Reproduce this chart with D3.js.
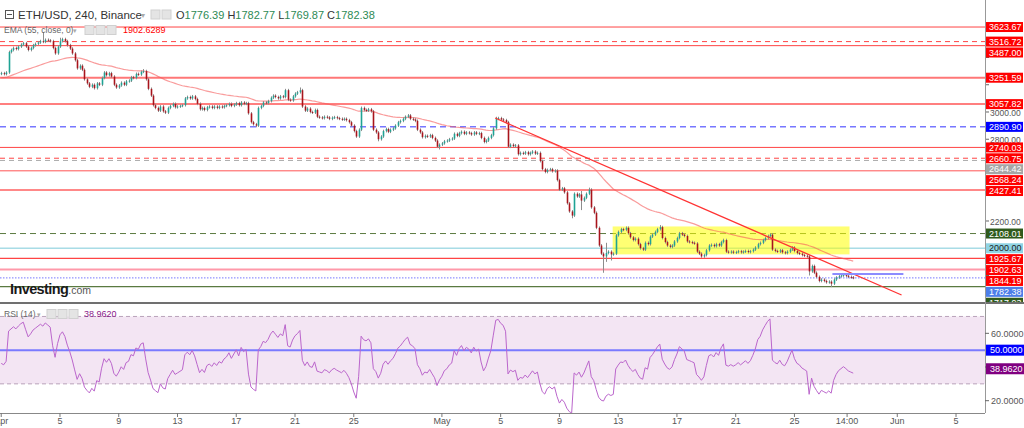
<!DOCTYPE html>
<html>
<head>
<meta charset="utf-8">
<script src="https://cdn.jsdelivr.net/npm/d3@7"></script>
<style>
  html, body { margin: 0; padding: 0; background: #fff; }
  svg { display: block; font-family: "Liberation Sans", Arial, sans-serif; }
</style>
</head>
<body>
<svg id="chart" width="1024" height="428"></svg>
<script>
// ETH/USD 4h closes, Apr 1 2022 00:00 onwards
const closes = [
  3285, 3278, 3290, 3440, 3455, 3470, 3462, 3480, 3495, 3505,
  3480, 3455, 3470, 3490, 3500, 3510, 3520, 3515, 3530, 3525,
  3520, 3470, 3430, 3480, 3520, 3535, 3520, 3490, 3465, 3430,
  3380, 3320, 3340, 3310, 3240, 3210, 3185, 3200, 3175, 3210,
  3200, 3250, 3290, 3270, 3285, 3260, 3200, 3180, 3195, 3215,
  3200, 3225, 3230, 3255, 3250, 3280, 3275, 3295, 3300, 3240,
  3170, 3120, 3050, 3030, 3010, 3040, 3005, 2995, 3030, 3045,
  3060, 3035, 3040, 3045, 3050, 3100, 3110, 3100, 3115, 3095,
  3060, 3020, 3030, 3015, 3035, 3040, 3030, 3040, 3030, 3040,
  3035, 3045, 3050, 3060, 3045, 3055, 3065, 3050, 3070, 3060,
  3065, 2990, 2925, 2910, 2900, 3030, 3045, 3070, 3065, 3080,
  3105, 3120, 3110, 3100, 3115, 3110, 3160, 3090, 3085, 3115,
  3135, 3145, 3160, 3040, 3010, 3025, 3000, 2995, 3015, 2965,
  2960, 2955, 2965, 2960, 2950, 2958, 2962, 2955, 2950, 2945,
  2950, 2940, 2925, 2900, 2860, 2820, 2870, 3030, 3015, 3010,
  3020, 3005, 2870, 2850, 2800, 2820, 2860, 2875, 2855, 2870,
  2880, 2900, 2925, 2935, 2950, 2965, 2975, 2950, 2945, 2935,
  2870, 2850, 2815, 2825, 2820, 2830, 2810, 2790, 2745, 2760,
  2770, 2785, 2790, 2800, 2805, 2840, 2825, 2845, 2855, 2840,
  2850, 2845, 2835, 2850, 2840, 2845, 2810, 2780, 2790, 2810,
  2830, 2880, 2950, 2955, 2945, 2940, 2925, 2745, 2760, 2750,
  2755, 2690, 2700, 2695, 2705, 2690, 2700, 2710, 2695, 2700,
  2640, 2580, 2560, 2575, 2580, 2565, 2570, 2500, 2430, 2440,
  2410, 2330, 2270, 2240, 2400, 2380, 2395, 2350, 2370, 2400,
  2430, 2300, 2260, 2150, 2020, 1960, 1940, 1965, 1975, 1955,
  1960, 2095, 2120, 2140, 2135, 2150, 2110, 2080, 2060, 2070,
  2030, 2000, 1990, 2040, 2030, 2085, 2100, 2120, 2140, 2155,
  2075, 2045, 2020, 2010, 2020, 2050, 2075, 2110, 2100, 2090,
  2050, 2045, 2040, 2035, 1975, 1960, 1940, 1950, 1985, 2020,
  2025, 2015, 2030, 2020, 2045, 2060, 1975, 1970, 1975, 1968,
  1972, 1978, 1970, 1975, 1980, 1972, 1978, 1990, 2005, 2030,
  2040, 2060, 2075, 2090, 2100, 1990, 1980, 1975, 1985, 1970,
  1965, 1975, 1990, 2005, 1980, 1965, 1960, 1950, 1945, 1940,
  1830, 1870, 1820, 1790, 1760, 1770, 1760, 1750, 1755, 1740,
  1770, 1785, 1795, 1800, 1805, 1798, 1790, 1786, 1782.38
];
const firstOpen = 3280;
// notable wicks: [bar index, price]
const highWicks = [[17, 3587], [24, 3545], [58, 3315], [122, 3180], [166, 2985], [202, 2965],
  [237, 2420], [240, 2445], [247, 2040], [255, 2160], [269, 2170], [314, 2110]];
const lowWicks = [[104, 2888], [154, 2785], [179, 2725], [233, 2220], [237, 2280], [246, 1820],
  [247, 1900], [249, 1910], [330, 1800], [339, 1715]];

const emaSeed = 3250;
const rsiSeedGain = 12, rsiSeedLoss = 17;

// horizontal levels and their axis labels
const levelPrices = [3623.67, 3516.72, 3487.00, 3251.59, 3057.82, 2890.90, 2740.03, 2660.75,
  2644.42, 2568.24, 2427.41, 2108.01, 2000.00, 1925.67, 1844.19, 1782.38, 1717.93];
const emaLast = 1902.63;
const priceTicks = [3600, 3400, 3200, 3000, 2800, 2600, 2400, 2200, 2000, 1800];

const zonePrices = [2160, 1955];
const zoneDates = [Date.UTC(2022, 4, 12, 15), Date.UTC(2022, 4, 28, 18)];
const trendDates = [Date.UTC(2022, 4, 4, 15), Date.UTC(2022, 5, 1, 7)];
const trendPrices = [2956, 1657];
const rayDates = [Date.UTC(2022, 4, 27, 14), Date.UTC(2022, 5, 1, 10)];
const rayPrice = 1811;

const rsiTicks = [60, 40, 20];
const rsiBands = [70, 30];
const rsiMid = 50;
const rsiLast = 38.9620;

const timeTicks = [Date.UTC(2022, 3, 1), Date.UTC(2022, 3, 5), Date.UTC(2022, 3, 9), Date.UTC(2022, 3, 13),
  Date.UTC(2022, 3, 17), Date.UTC(2022, 3, 21), Date.UTC(2022, 3, 25), Date.UTC(2022, 4, 1),
  Date.UTC(2022, 4, 5), Date.UTC(2022, 4, 9), Date.UTC(2022, 4, 13), Date.UTC(2022, 4, 17),
  Date.UTC(2022, 4, 21), Date.UTC(2022, 4, 25), Date.UTC(2022, 4, 28, 14), Date.UTC(2022, 5, 1),
  Date.UTC(2022, 5, 5)];
const timeLabels = ['Apr', '5', '9', '13', '17', '21', '25', 'May', '5', '9', '13', '17', '21', '25', '14:00', 'Jun', '5'];

const ohlcLegend = ['1776.39', '1782.77', '1769.87', '1782.38'];

// ---------- layout ----------
const W = 1024, plotR = 985;
const mainTop = 0, mainBot = 302;
const rsiTop = 304, rsiBot = 413;
const H4 = 4 * 3600 * 1000;
const t0 = Date.UTC(2022, 3, 1);

const svg = d3.select('#chart');

const x = d3.scaleUtc()
  .domain([new Date(Date.UTC(2022, 2, 31, 22)), new Date(Date.UTC(2022, 5, 6, 23, 20))])
  .range([0, plotR]);
const y = d3.scaleLinear().domain([1605.5, 3822]).range([mainBot, mainTop]);
const yr = d3.scaleLinear().domain([12.7, 77.4]).range([rsiBot, rsiTop]);

// candles
const hiMap = new Map(highWicks), loMap = new Map(lowWicks);
const bars = closes.map((c, i) => {
  const o = i ? closes[i - 1] : firstOpen;
  return {
    t: t0 + i * H4, o, c,
    h: hiMap.has(i) ? hiMap.get(i) : Math.max(o, c) + 10,
    l: loMap.has(i) ? loMap.get(i) : Math.min(o, c) - 10
  };
});

// EMA 55
const k = 2 / 56;
let e = emaSeed;
const ema = closes.map(c => (e = c * k + e * (1 - k)));

// RSI 14 (Wilder)
let ag = rsiSeedGain, al = rsiSeedLoss;
const rsi = bars.map(b => {
  const d = b.c - b.o;
  ag = (ag * 13 + Math.max(d, 0)) / 14;
  al = (al * 13 + Math.max(-d, 0)) / 14;
  return 100 - 100 / (1 + ag / al);
});

svg.append('defs').append('clipPath').attr('id', 'mainClip')
  .append('rect').attr('x', 0).attr('y', mainTop).attr('width', plotR).attr('height', mainBot - mainTop);
svg.select('defs').append('clipPath').attr('id', 'axisClip')
  .append('rect').attr('x', plotR).attr('y', mainTop).attr('width', W - plotR).attr('height', mainBot - mainTop);
svg.select('defs').append('clipPath').attr('id', 'rsiClip')
  .append('rect').attr('x', 0).attr('y', rsiTop).attr('width', plotR).attr('height', rsiBot - rsiTop);

const main = svg.append('g').attr('clip-path', 'url(#mainClip)');

// horizontal levels
const levelStyle = [
  { c: '#f44', w: 1 }, { c: '#f44', w: 1, d: '5,4' }, { c: '#f44', w: 1 }, { c: '#f77', w: 2 },
  { c: '#f55', w: 1.5 }, { c: '#77f', w: 1.5, d: '6,4' }, { c: '#f44', w: 1 }, { c: '#f44', w: 1, d: '5,4' },
  { c: '#aaa', w: 1, d: '5,4' }, { c: '#f55', w: 1 }, { c: '#f88', w: 2 }, { c: '#5a7a40', w: 1, d: '6,4' },
  { c: '#a8dce6', w: 1.5 }, { c: '#f44', w: 1.2 }, { c: '#f9a', w: 2 }, { c: '#77f', w: 1, d: '1.5,1.5' },
  { c: '#5a7a40', w: 1.2 }
];
main.selectAll('line.level').data(levelPrices).join('line')
  .attr('class', 'level')
  .attr('x1', 0).attr('x2', plotR)
  .attr('y1', d => y(d)).attr('y2', d => y(d))
  .attr('stroke', (d, i) => levelStyle[i].c)
  .attr('stroke-width', (d, i) => levelStyle[i].w)
  .attr('stroke-dasharray', (d, i) => levelStyle[i].d || null);

// yellow zone
main.append('rect')
  .attr('x', x(zoneDates[0])).attr('width', x(zoneDates[1]) - x(zoneDates[0]))
  .attr('y', y(zonePrices[0])).attr('height', y(zonePrices[1]) - y(zonePrices[0]))
  .attr('fill', 'rgba(255,255,0,0.55)');

// EMA line
main.append('path')
  .datum(ema)
  .attr('fill', 'none').attr('stroke', 'rgba(245,90,90,0.6)').attr('stroke-width', 1.2)
  .attr('d', d3.line().x((d, i) => x(bars[i].t)).y(d => y(d)));

// candles
const bw = 1.6;
const cg = main.append('g');
cg.selectAll('line').data(bars).join('line')
  .attr('x1', d => Math.round(x(d.t)) + 0.5).attr('x2', d => Math.round(x(d.t)) + 0.5)
  .attr('y1', d => y(d.h)).attr('y2', d => y(d.l))
  .attr('stroke', '#8d8d8d').attr('stroke-width', 1);
cg.selectAll('rect').data(bars).join('rect')
  .attr('x', d => Math.round(x(d.t)) + 0.5 - bw / 2)
  .attr('width', bw)
  .attr('y', d => y(Math.max(d.o, d.c)))
  .attr('height', d => Math.max(1, Math.abs(y(d.o) - y(d.c))))
  .attr('fill', d => d.c >= d.o ? '#1fa394' : '#a8141c');

// trend line and ray
main.append('line')
  .attr('x1', x(trendDates[0])).attr('y1', y(trendPrices[0]))
  .attr('x2', x(trendDates[1])).attr('y2', y(trendPrices[1]))
  .attr('stroke', '#f33').attr('stroke-width', 1.3);
main.append('line')
  .attr('x1', x(rayDates[0])).attr('x2', x(rayDates[1]))
  .attr('y1', y(rayPrice)).attr('y2', y(rayPrice))
  .attr('stroke', '#8c8cff').attr('stroke-width', 2);

// Investing.com mark
const logo = svg.append('text').attr('x', 10).attr('y', 294);
logo.append('tspan').text('Investing').attr('font-size', 14.5).attr('font-weight', 'bold')
  .attr('fill', '#1a1a1a').attr('letter-spacing', -0.6);
logo.append('tspan').text('.com').attr('font-size', 10.5).attr('fill', '#555');

// price labels with collision push-down
const labelColors = {
  2890.90: ['#0000ff', '#fff'], 2644.42: ['#a6a6a6', '#fff'], 2108.01: ['#2f5a1c', '#fff'],
  2000.00: ['#8fd4e4', '#222'], 1782.38: ['#4d7ee8', '#fff'], 1717.93: ['#2f5a1c', '#fff']
};
const labels = levelPrices.concat([emaLast]).sort((a, b) => b - a);
let prevY = -100;
const placed = labels.map(p => {
  const ly = Math.max(y(p), prevY + 10.9);
  prevY = ly;
  return { p, ly };
});

// price axis ticks (texts hidden where a label box sits on them)
const pAxis = svg.append('g').attr('clip-path', 'url(#axisClip)');
priceTicks.forEach(p => {
  pAxis.append('line').attr('x1', plotR).attr('x2', plotR + 4).attr('y1', y(p)).attr('y2', y(p)).attr('stroke', '#666');
  if (placed.some(l => Math.abs(l.ly - y(p)) < 7.5)) return;
  pAxis.append('text').attr('x', plotR + 5).attr('y', y(p) + 3.6).attr('font-size', 8.5).attr('fill', '#555')
    .text(p.toFixed(2));
});
placed.forEach(({ p, ly }) => {
  const col = labelColors[p] || ['#ff0000', '#fff'];
  pAxis.append('rect').attr('x', plotR + 1).attr('y', ly - 5).attr('width', 37).attr('height', 10).attr('fill', col[0]);
  pAxis.append('text').attr('x', plotR + 4).attr('y', ly + 3.2).attr('font-size', 9).attr('fill', col[1]).text(p.toFixed(2));
});

// pane separator and axis frame
svg.append('rect').attr('x', 0).attr('y', mainBot).attr('width', W).attr('height', 2).attr('fill', '#707070');
svg.append('line').attr('x1', plotR + 0.5).attr('x2', plotR + 0.5).attr('y1', 0).attr('y2', rsiBot).attr('stroke', '#999');

// RSI pane
const rg = svg.append('g');
rg.append('rect').attr('x', 0).attr('width', plotR)
  .attr('y', yr(rsiBands[0])).attr('height', yr(rsiBands[1]) - yr(rsiBands[0]))
  .attr('fill', '#f3e5f3');
rsiBands.forEach(v => {
  rg.append('line').attr('x1', 0).attr('x2', plotR).attr('y1', yr(v)).attr('y2', yr(v))
    .attr('stroke', '#b9a2ba').attr('stroke-dasharray', '4,3');
});
rg.append('line').attr('x1', 0).attr('x2', plotR).attr('y1', yr(rsiMid)).attr('y2', yr(rsiMid))
  .attr('stroke', '#7a7aff').attr('stroke-width', 2);
rg.append('path').datum(rsi).attr('clip-path', 'url(#rsiClip)')
  .attr('fill', 'none').attr('stroke', '#bb66cc').attr('stroke-width', 1)
  .attr('d', d3.line().x((d, i) => x(bars[i].t)).y(d => yr(d)));

rsiTicks.forEach(v => {
  rg.append('line').attr('x1', plotR).attr('x2', plotR + 4).attr('y1', yr(v)).attr('y2', yr(v)).attr('stroke', '#666');
  if (Math.abs(yr(v) - yr(rsiLast)) < 7.5) return;
  rg.append('text').attr('x', plotR + 6).attr('y', yr(v) + 3.3).attr('font-size', 9).attr('fill', '#555').text(v.toFixed(4));
});
[[rsiMid, '#0000ff'], [rsiLast, '#800080']].forEach(([v, c]) => {
  rg.append('rect').attr('x', plotR + 1).attr('y', yr(v) - 5.5).attr('width', 38).attr('height', 11).attr('fill', c);
  rg.append('text').attr('x', plotR + 5).attr('y', yr(v) + 3.3).attr('font-size', 9).attr('fill', '#fff').text(v.toFixed(4));
});

// time axis
svg.append('line').attr('x1', 0).attr('x2', plotR).attr('y1', rsiBot + 0.5).attr('y2', rsiBot + 0.5).attr('stroke', '#888');
const tg = svg.append('g');
timeTicks.forEach((t, i) => {
  tg.append('line').attr('x1', x(t)).attr('x2', x(t)).attr('y1', rsiBot).attr('y2', rsiBot + 4).attr('stroke', '#777');
  tg.append('text').attr('x', x(t)).attr('y', 424).attr('text-anchor', 'middle')
    .attr('font-size', 9).attr('fill', '#555').text(timeLabels[i]);
});

// legends
function icons(g, xs, yy) {
  xs.forEach(xx => g.append('rect').attr('x', xx).attr('y', yy).attr('width', 9).attr('height', 9)
    .attr('fill', '#e4e4e4').attr('stroke', '#d0d0d0'));
}
const lg = svg.append('g');
lg.append('rect').attr('x', 5.5).attr('y', 10.5).attr('width', 8).attr('height', 8).attr('fill', 'none').attr('stroke', '#555');
lg.append('line').attr('x1', 7).attr('x2', 12).attr('y1', 14.5).attr('y2', 14.5).attr('stroke', '#555');
lg.append('text').attr('x', 18).attr('y', 19).attr('font-size', 11.5).attr('fill', '#333').text('ETH/USD, 240, Binance');
lg.append('text').attr('x', 141).attr('y', 18).attr('font-size', 8).attr('fill', '#aaa').text('▾');
icons(lg, [151, 162], 10);
const ohlc = lg.append('text').attr('x', 176).attr('y', 19).attr('font-size', 11);
['O', 'H', 'L', 'C'].forEach((s, i) => {
  ohlc.append('tspan').attr('fill', '#333').text((i ? ' ' : '') + s);
  ohlc.append('tspan').attr('fill', '#2d8a55').text(ohlcLegend[i]);
});
lg.append('text').attr('x', 4).attr('y', 33).attr('font-size', 8.5).attr('fill', '#666').text('EMA (55, close, 0)');
lg.append('text').attr('x', 73).attr('y', 33).attr('font-size', 7).attr('fill', '#aaa').text('▾');
icons(lg, [85, 96, 107], 25.5);
lg.append('text').attr('x', 123).attr('y', 33).attr('font-size', 9).attr('fill', '#ff0000').text('1902.6289');

lg.append('text').attr('x', 4).attr('y', 317).attr('font-size', 8.5).attr('fill', '#666').text('RSI (14)');
lg.append('text').attr('x', 37).attr('y', 317).attr('font-size', 7).attr('fill', '#aaa').text('▾');
icons(lg, [47, 58, 69], 309.5);
lg.append('text').attr('x', 84).attr('y', 317).attr('font-size', 9).attr('fill', '#8b1a8b').text(rsiLast.toFixed(4));
</script>
</body>
</html>
